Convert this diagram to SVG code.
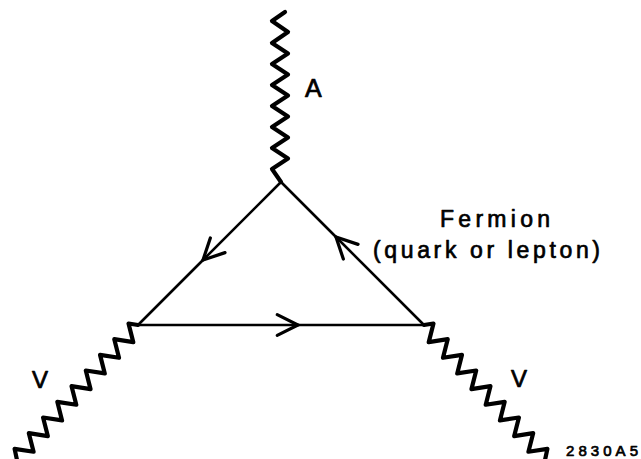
<svg xmlns="http://www.w3.org/2000/svg" width="641" height="459" viewBox="0 0 641 459">
<style>
.wave{fill:none;stroke:#000;stroke-width:4.2;stroke-linejoin:round;stroke-linecap:round}
.edge{fill:none;stroke:#000;stroke-width:2.6;stroke-linecap:round}
.lbl{font-family:"Liberation Sans",Arial,sans-serif;fill:#000;stroke:#000;stroke-width:0.7;stroke-linejoin:round}
</style>
<defs>
<marker id="chev" markerUnits="userSpaceOnUse" orient="auto" markerWidth="30" markerHeight="30" viewBox="-22 -12 26 24" refX="0" refY="0" overflow="visible">
<path d="M-18,-9 L0,0 L-18,9" fill="none" stroke="#000" stroke-width="2.8" stroke-linecap="round" stroke-linejoin="miter"/>
</marker>
</defs>
<rect width="641" height="459" fill="#fff"/>
<g id="connectors">
<g id="fermion-left">
<line class="edge" x1="281" y1="182" x2="203" y2="260" marker-end="url(#chev)"/>
<line class="edge" x1="203" y1="260" x2="138" y2="325"/>
</g>
<g id="fermion-bottom">
<line class="edge" x1="138" y1="325" x2="298" y2="325" marker-end="url(#chev)"/>
<line class="edge" x1="298" y1="325" x2="424" y2="325"/>
</g>
<g id="fermion-right">
<line class="edge" x1="424" y1="325" x2="336" y2="237" marker-end="url(#chev)"/>
<line class="edge" x1="336" y1="237" x2="281" y2="182"/>
</g>
<path id="boson-A" class="wave" d="M285,12 L272,21 L288,32 L272,43 L288,53.5 L272,64 L288,74.5 L272,85 L288,95.5 L272,106 L288,116.5 L272,127 L288,137.5 L272,148 L288,158.5 L272,169 L281,182"/>
<path id="boson-V-left" class="wave" d="M138,325 L128.52,323.54 L133.24,342.13 L114.28,339.2 L119,357.79 L100.04,354.86 L104.76,373.45 L85.8,370.52 L90.52,389.11 L71.56,386.18 L76.28,404.77 L57.32,401.84 L62.04,420.43 L43.08,417.5 L47.8,436.09 L28.84,433.16 L33.56,451.75 L14.6,448.82 L17,460"/>
<path id="boson-V-right" class="wave" transform="translate(562,0) scale(-1,1)" d="M138,325 L128.52,323.54 L133.24,342.13 L114.28,339.2 L119,357.79 L100.04,354.86 L104.76,373.45 L85.8,370.52 L90.52,389.11 L71.56,386.18 L76.28,404.77 L57.32,401.84 L62.04,420.43 L43.08,417.5 L47.8,436.09 L28.84,433.16 L33.56,451.75 L14.6,448.82 L17,460"/>
</g>
<g id="label-A"><text class="lbl" x="305" y="97" font-size="25">A</text></g>
<g id="label-V-left"><text class="lbl" x="32" y="388" font-size="24">V</text></g>
<g id="label-V-right"><text class="lbl" x="511" y="387" font-size="24">V</text></g>
<g id="label-fermion">
<text class="lbl" x="440" y="227" font-size="23" textLength="110" lengthAdjust="spacing">Fermion</text>
<text class="lbl" x="373" y="258" font-size="23" textLength="227" lengthAdjust="spacing">(quark or lepton)</text>
</g>
<g id="label-code"><text class="lbl" x="566" y="456" font-size="15" textLength="72" lengthAdjust="spacing" stroke-width="0.4">2830A5</text></g>
</svg>
